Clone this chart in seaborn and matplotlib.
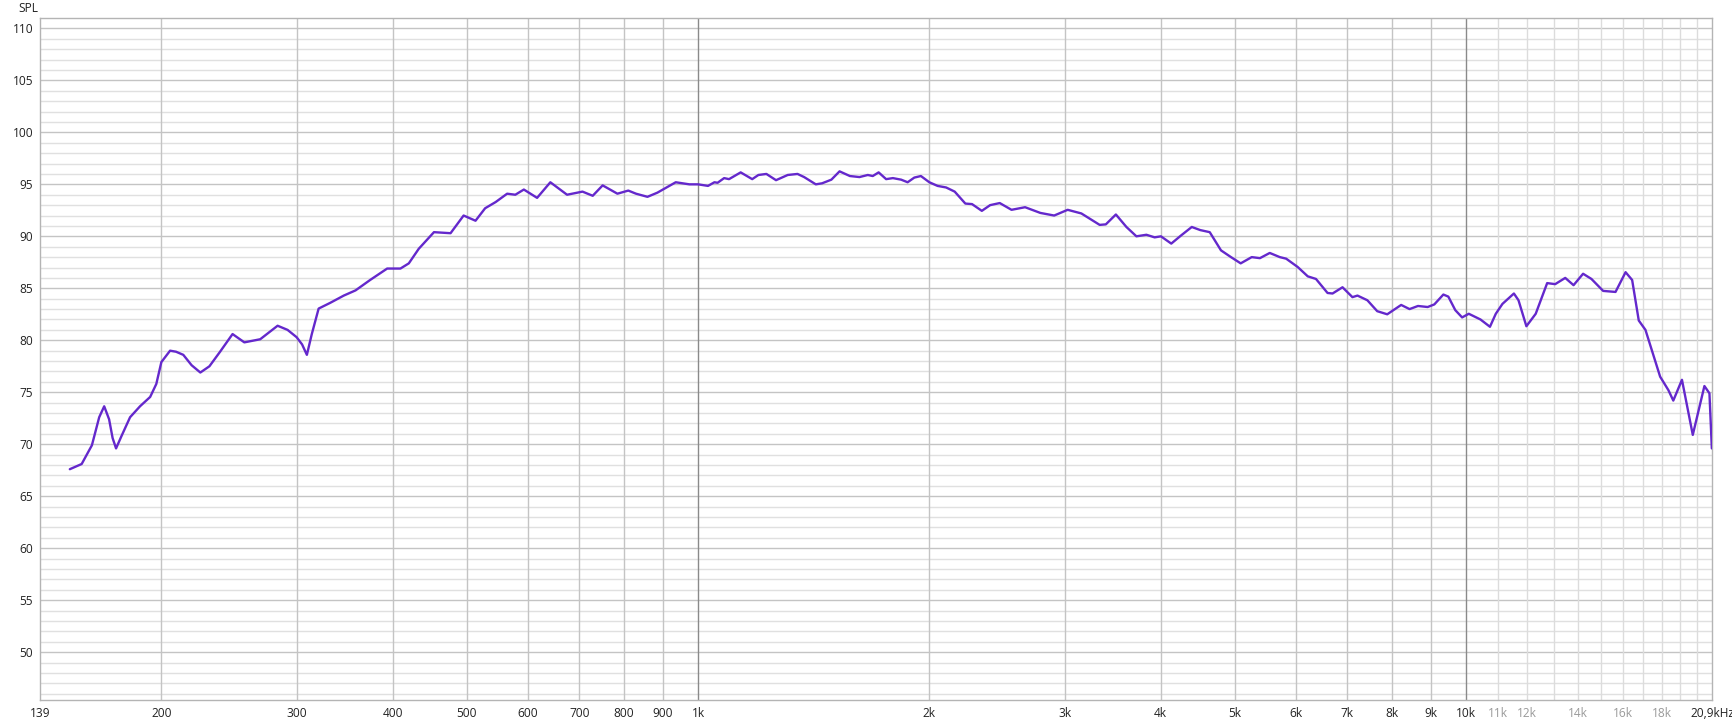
import numpy as np
import pandas as pd
import matplotlib
matplotlib.use("Agg")
import matplotlib.pyplot as plt
import seaborn as sns

# frequency response (Hz, dB SPL)
freq = [152, 157.5, 162.4, 166, 168.5, 171, 172.8, 174.6, 177.5, 182.1,
        187.6, 193.4, 197, 200, 205.3, 209, 213.6, 219, 224.8, 231,
        238.5, 247.6, 256.5, 269, 283.4, 292, 300, 305, 309.4, 314,
        320.5, 331.8, 345.6, 358, 374, 393.6, 409.6, 420, 432.7, 452.9,
        476, 495, 513, 528, 545, 564, 578, 593, 617, 642,
        675, 707, 729, 751, 785, 811, 830, 859, 885, 935,
        974, 1000, 1030, 1050, 1060, 1081, 1097, 1136, 1176, 1198,
        1227, 1263, 1308, 1347, 1374, 1423, 1450, 1491, 1528, 1576,
        1622, 1663, 1688, 1718, 1757, 1793, 1838, 1874, 1912, 1950,
        2000, 2050, 2103, 2158, 2228, 2273, 2341, 2400, 2470, 2559,
        2665, 2790, 2908, 3028, 3155, 3333, 3395, 3499, 3611, 3721,
        3834, 3930, 4005, 4131, 4257, 4393, 4506, 4636, 4795, 4941,
        5087, 5258, 5389, 5550, 5720, 5830, 6035, 6220, 6375, 6600,
        6700, 6903, 7111, 7220, 7437, 7660, 7893, 8230, 8440, 8656,
        8911, 9090, 9340, 9480, 9680, 9880, 10080, 10440, 10740, 10930,
        11150, 11540, 11700, 11980, 12320, 12750, 13060, 13460, 13800, 14200,
        14560, 15080, 15650, 16130, 16450, 16780, 17120, 17890, 18340, 18610,
        19100, 19730, 20430, 20740, 20890]
spl = [67.6, 68.1, 69.9, 72.6, 73.65, 72.4, 70.6, 69.6, 70.8, 72.6,
       73.65, 74.55, 75.8, 77.9, 79.0, 78.9, 78.6, 77.6, 76.9, 77.5,
       78.9, 80.6, 79.8, 80.1, 81.4, 81.0, 80.3, 79.6, 78.6, 80.6,
       83.05, 83.6, 84.3, 84.8, 85.8, 86.9, 86.9, 87.4, 88.8, 90.4,
       90.3, 92.0, 91.5, 92.7, 93.3, 94.1, 94.0, 94.5, 93.7, 95.2,
       94.0, 94.3, 93.9, 94.9, 94.1, 94.4, 94.1, 93.8, 94.2, 95.2,
       95.0, 95.0, 94.85, 95.2, 95.15, 95.6, 95.5, 96.15, 95.5, 95.9,
       96.0, 95.4, 95.9, 96.0, 95.7, 95.0, 95.1, 95.45, 96.25, 95.8,
       95.7, 95.9, 95.8, 96.15, 95.5, 95.6, 95.45, 95.2, 95.65, 95.8,
       95.2, 94.85, 94.7, 94.3, 93.15, 93.1, 92.45, 93.0, 93.2, 92.55,
       92.8, 92.25, 92.0, 92.55, 92.2, 91.1, 91.15, 92.1, 90.9, 90.0,
       90.15, 89.9, 90.0, 89.3, 90.1, 90.9, 90.6, 90.4, 88.65, 88.0,
       87.4, 88.0, 87.9, 88.4, 88.0, 87.85, 87.05, 86.15, 85.9, 84.55,
       84.5, 85.1, 84.15, 84.3, 83.85, 82.8, 82.5, 83.4, 83.0, 83.3,
       83.2, 83.45, 84.4, 84.2, 82.9, 82.2, 82.55, 82.0, 81.3, 82.55,
       83.5, 84.5, 83.85, 81.35, 82.55, 85.5, 85.4, 86.0, 85.3, 86.4,
       85.9, 84.75, 84.65, 86.55, 85.8, 81.9, 81.0, 76.5, 75.2, 74.2,
       76.2, 70.9, 75.6, 74.9, 69.6]

x_ticks = [139, 200, 300, 400, 500, 600, 700, 800, 900, 1000, 2000, 3000, 4000,
           5000, 6000, 7000, 8000, 9000, 10000, 11000, 12000, 14000, 16000,
           18000, 20900]
x_labels = ["139", "200", "300", "400", "500", "600", "700", "800", "900", "1k",
            "2k", "3k", "4k", "5k", "6k", "7k", "8k", "9k", "10k", "11k", "12k",
            "14k", "16k", "18k", "20,9kHz"]
y_ticks = [50, 55, 60, 65, 70, 75, 80, 85, 90, 95, 100, 105, 110]

df = pd.DataFrame({"Frequency": freq, "SPL": spl})

sns.set_style("white")
plt.rcParams["font.family"] = ["Open Sans", "DejaVu Sans"]

fig = plt.figure(figsize=(17.32, 7.25), dpi=100)
ax = fig.add_axes([40 / 1732, 25 / 725, 1672 / 1732, 682 / 725])

# grid
for v in np.arange(46, 111, 1):
    if v % 5 == 0:
        ax.axhline(v, color="#c4c4c4", lw=1.0, zorder=0)
    else:
        ax.axhline(v, color="#e0e0e0", lw=1.0, zorder=0)
for f in [200, 300, 400, 500, 600, 700, 800, 900, 2000, 3000, 4000, 5000,
          6000, 7000, 8000, 9000]:
    ax.axvline(f, color="#c4c4c4", lw=1.0, zorder=0)
for f in [1000, 10000]:
    ax.axvline(f, color="#8a8a8a", lw=1.0, zorder=0)
for f in range(11000, 20001, 1000):
    ax.axvline(f, color="#dcdcdc", lw=1.0, zorder=0)

sns.lineplot(data=df, x="Frequency", y="SPL", ax=ax, color="#6428cc", lw=1.7,
             sort=False, zorder=3)

ax.set_xscale("log")
ax.set_xlim(139, 20900)
ax.set_ylim(45.4, 111)
ax.set_xticks(x_ticks)
ax.set_xticklabels(x_labels)
ax.xaxis.set_minor_locator(matplotlib.ticker.NullLocator())
ax.set_yticks(y_ticks)
ax.set_yticklabels([str(t) for t in y_ticks])
ax.tick_params(axis="x", length=0, pad=5, labelsize=8.6, colors="#222222")
ax.tick_params(axis="y", length=4, width=1, pad=1, labelsize=8.6,
               colors="#222222")
ax.tick_params(axis="y", color="#c4c4c4")
for lab in ax.get_xticklabels():
    if lab.get_text() in ["11k", "12k", "14k", "16k", "18k"]:
        lab.set_color("#9a9a9a")
ax.set_xlabel("")
ax.set_ylabel("")
for s in ax.spines.values():
    s.set_color("#b4b4b4")
    s.set_linewidth(1.0)

fig.text(18 / 1732, 1 - 9 / 725, "SPL", fontsize=8.6, color="#222222", va="center")

fig.savefig("out.png", dpi=100, facecolor="white")
